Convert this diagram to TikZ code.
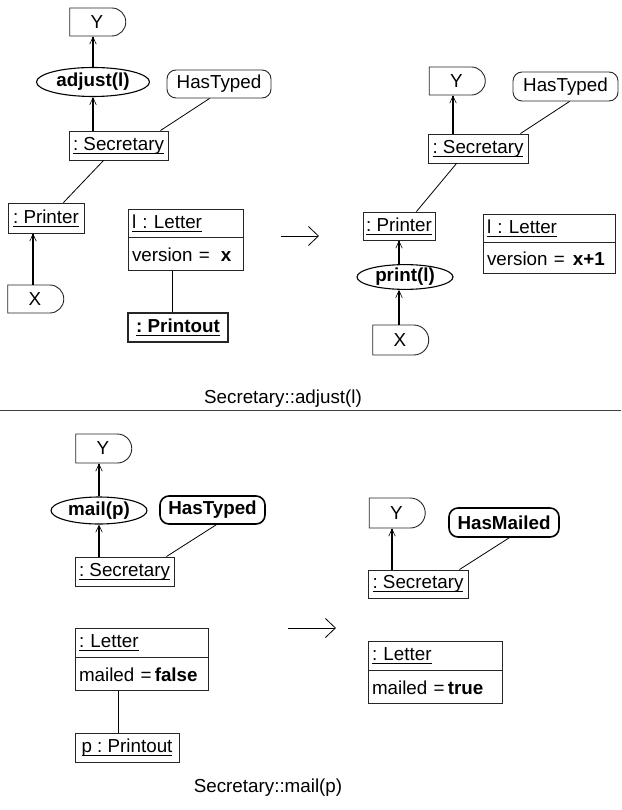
\documentclass[tikz,border=0pt]{standalone}
\usepackage{fontspec}
\setmainfont{Liberation Sans}
\usetikzlibrary{shapes.geometric,shapes.misc,arrows.meta,calc}
\frenchspacing
% underlined object name (UML instance notation)
\newcommand{\objname}[1]{\setbox0\hbox{#1}\rlap{\rule[-3.6pt]{\wd0}{0.8pt}}\box0}
% state label set slightly left of the box centre
\newcommand{\statelabel}[1]{#1\hspace{8pt}}

\tikzset{
  base/.style={font=\fontsize{18.8}{22}\selectfont, inner sep=0pt},
  obj/.style={base, rectangle, draw=black!85, line width=0.9pt, minimum height=29},
  objhead/.style={obj, align=left, inner xsep=4pt, minimum height=28},
  objbody/.style={obj, align=left, inner xsep=4pt, minimum height=32, anchor=north},
  boldobj/.style={obj, line width=1.8pt},
  dshape/.style={base, rounded rectangle, rounded rectangle left arc=none,
                 draw=black!85, line width=0.9pt, minimum width=56, minimum height=28},
  call/.style={base, ellipse, draw=black, line width=1.1pt},
  state/.style={base, rectangle, rounded corners=9pt, draw=black!85, line width=0.9pt,
                minimum height=28},
  boldstate/.style={state, line width=1.6pt, draw=black},
  flow/.style={line width=1.3pt, -{Straight Barb[length=7pt,width=6.5pt,line width=0.6pt]}},
  assoc/.style={line width=0.8pt},
  trans/.style={line width=0.9pt, -{Straight Barb[length=10pt,width=19pt,line width=0.8pt]}},
}

\begin{document}
\begin{tikzpicture}[x=1pt,y=-1pt]
\useasboundingbox (0,0) rectangle (621,810);

% ---------------- Secretary::adjust(l), left-hand side
\node[dshape] (Y1) at (97,22) {Y};
\node[call, minimum width=113, minimum height=29] (adj1) at (93,82) {\textbf{adjust(l)}};
\node[state, minimum width=104] (HT1) at (219,84) {\statelabel{HasTyped}};
\node[obj, minimum width=99] (Sec1) at (118.5,145.5) {\objname{: Secretary}};
\node[obj, minimum width=76, minimum height=30] (Pr1) at (46,218) {\objname{: Printer}};
\node[dshape] (X1) at (35,299) {X};
\node[objhead, text width=107] (L1h) at (185.5,223) {\objname{l : Letter}};
\node[objbody, text width=107, minimum height=33] (L1b) at (L1h.south) {version =\hspace{11pt}\textbf{x}};
\node[boldobj, minimum width=100] (PO1) at (178,327.5) {\objname{\textbf{: Printout}}};

\draw[flow] (Sec1.north -| adj1.south) -- (adj1.south);
\draw[flow] (adj1.north) -- (adj1.north |- Y1.south);
\draw[assoc] ($(HT1.south west)+(43,0)$) -- ($(Sec1.north east)+(-8,0)$);
\draw[assoc] ($(Sec1.south west)+(35,0)$) -- ($(Pr1.north east)+(-21,0)$);
\draw[flow] (X1.north -| 33,0) -- (Pr1.south -| 33,0);
\draw[assoc] (L1b.south -| 172,0) -- (PO1.north -| 172,0);

% transformation arrow
\coordinate (t1a) at (281,236);
\coordinate (t1b) at (319,236);
\draw[trans] (t1a) -- (t1b);

% ---------------- Secretary::adjust(l), right-hand side
\node[dshape] (Y2) at (456.5,81) {Y};
\node[state, minimum width=105, minimum height=29] (HT2) at (565.5,86.5) {\statelabel{HasTyped}};
\node[obj, minimum width=100] (Sec2) at (478,148.5) {\objname{: Secretary}};
\node[obj, minimum width=72, minimum height=28] (Pr2) at (399,226) {\objname{: Printer}};
\node[call, minimum width=96, minimum height=24] (pr2) at (405,277) {\textbf{print(l)}};
\node[dshape, minimum height=30] (X2) at (400,340) {X};
\node[objhead, text width=124] (L2h) at (549,228) {\objname{l : Letter}};
\node[objbody, text width=124, minimum height=31] (L2b) at (L2h.south) {version =\hspace{8pt}\textbf{x+1}};

\draw[flow] (Sec2.north -| 453,0) -- (Y2.south -| 453,0);
\draw[assoc] ($(HT2.south west)+(57,0)$) -- ($(Sec2.north east)+(-8,0)$);
\draw[assoc] ($(Sec2.south west)+(29,0)$) -- ($(Pr2.north east)+(-19,0)$);
\draw[flow] (pr2.north -| 399,0) -- (Pr2.south -| 399,0);
\draw[flow] (X2.north -| 399,0) -- (pr2.south -| 399,0);

% caption and separator
\node[base] (cap1) at (283,399) {Secretary::adjust(l)};
\coordinate (sepL) at (0,410);
\coordinate (sepR) at (621,410);
\draw[line width=0.9pt, black!75] (sepL) -- (sepR);

% ---------------- Secretary::mail(p), left-hand side
\node[dshape, minimum height=29] (Y3) at (103,448.5) {Y};
\node[call, minimum width=96, minimum height=27] (mail3) at (99,510.5) {\textbf{mail(p)}};
\node[boldstate, minimum width=105] (HT3) at (212.5,510) {\statelabel{\textbf{HasTyped}}};
\node[obj, minimum width=99] (Sec3) at (124.5,571.5) {\objname{: Secretary}};
\node[objhead, text width=125, minimum height=29] (L3h) at (141.5,642.5) {\objname{: Letter}};
\node[objbody, text width=125, minimum height=33] (L3b) at (L3h.south) {mailed =\,\textbf{false}};
\node[obj, minimum width=104] (PO3) at (127,747.5) {\objname{p : Printout}};

\draw[flow] (Sec3.north -| mail3.south) -- (mail3.south);
\draw[flow] (mail3.north) -- (mail3.north |- Y3.south);
\draw[assoc] ($(HT3.south west)+(57,0)$) -- ($(Sec3.north east)+(-8,0)$);
\draw[assoc] (L3b.south -| 118,0) -- (PO3.north -| 118,0);

% transformation arrow
\coordinate (t2a) at (288,628);
\coordinate (t2b) at (336,628);
\draw[trans] (t2a) -- (t2b);

% ---------------- Secretary::mail(p), right-hand side
\node[dshape, minimum height=30] (Y4) at (396.5,513) {Y};
\node[boldstate, minimum width=110, minimum height=29] (HM4) at (504,522.5) {\statelabel{\textbf{HasMailed}}};
\node[obj, minimum width=100, minimum height=28] (Sec4) at (418,584) {\objname{: Secretary}};
\node[objhead, text width=126, minimum height=29] (L4h) at (435,655.5) {\objname{: Letter}};
\node[objbody, text width=126, minimum height=33] (L4b) at (L4h.south) {mailed =\,\textbf{true}};

\draw[flow] (Sec4.north -| 392,0) -- (Y4.south -| 392,0);
\draw[assoc] ($(HM4.south west)+(61,0)$) -- ($(Sec4.north east)+(-9,0)$);

\node[base] (cap2) at (268,788) {Secretary::mail(p)};
\end{tikzpicture}
\end{document}
